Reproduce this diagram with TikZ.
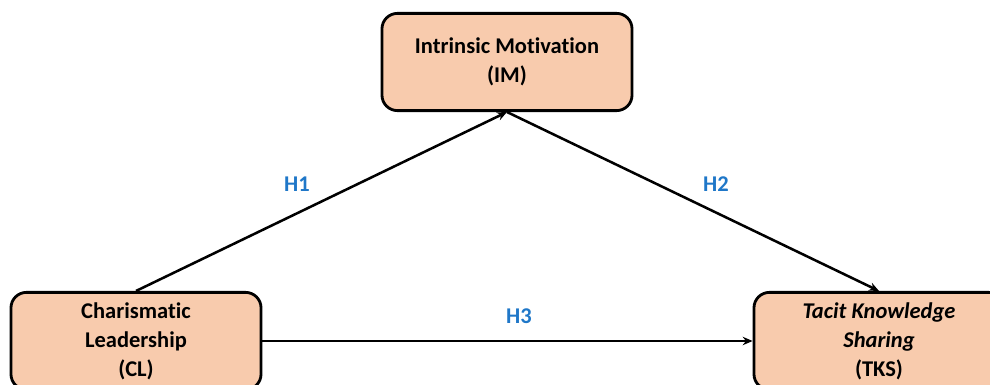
\documentclass[tikz,border=0pt]{standalone}
\usepackage{fontspec}
\setmainfont{Carlito}[Ligatures=NoCommon]
\usetikzlibrary{arrows.meta}

\definecolor{peach}{HTML}{F8CBAD}
\definecolor{hblue}{RGB}{31,119,200}

\begin{document}
\begin{tikzpicture}[x=0.025cm, y=-0.025cm,
		varbox/.style={draw=black, fill=peach, line width=2pt, rounded corners=11pt,
			minimum width=6.25cm, minimum height=2.43cm, align=center,
			font=\fontsize{16}{20.5}\selectfont\bfseries},
		link/.style={line width=1.8pt, -{Stealth[length=7pt, width=6pt]}},
		hyp/.style={text=hblue, font=\fontsize{16}{19}\selectfont\bfseries}]
	% Rahmen des Bildes
	\useasboundingbox (0,0) rectangle (990,385);
	
	% Variablen
	\node[varbox] (IM) at (507,62) {Intrinsic Motivation\\(IM)};
	\node[varbox] (CL) at (136,341) {Charismatic\\Leadership\\(CL)};
	\node[varbox] (TKS) at (879,341) {\itshape Tacit Knowledge\\\itshape Sharing\\(TKS)};
	
	% Hypothesen
	\draw[link] (CL.north) -- (IM.south);
	\draw[link] (IM.south) -- (TKS.north);
	\draw[link] (CL.east) -- (TKS.west);
	
	% Beschriftungen
	\node[hyp] (H1) at (297,184) {H1};
	\node[hyp] (H2) at (716,184) {H2};
	\node[hyp] (H3) at (519,316) {H3};
\end{tikzpicture}
\end{document}
